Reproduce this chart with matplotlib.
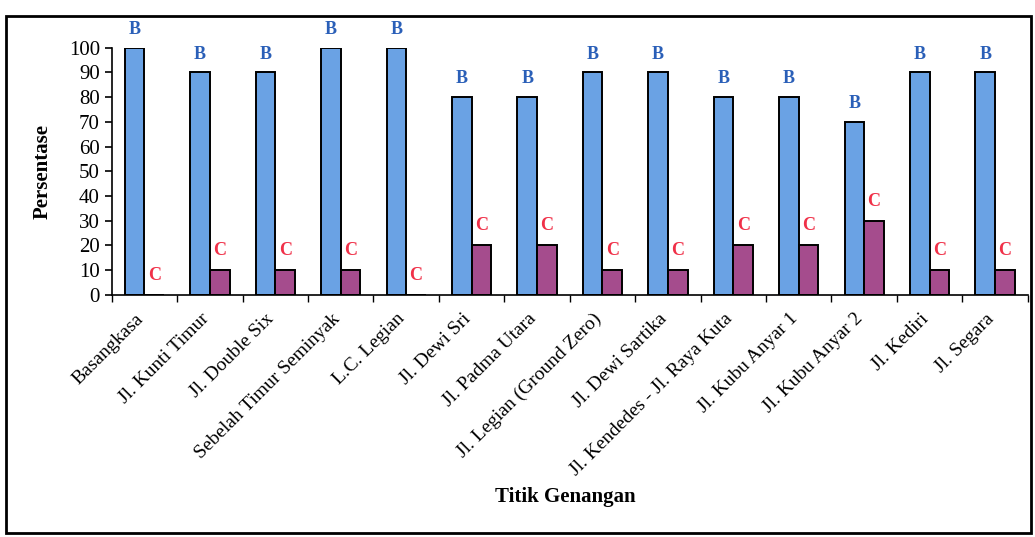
import numpy as np
import matplotlib
matplotlib.use('Agg')
import matplotlib.pyplot as plt
import matplotlib.transforms as mtransforms
from matplotlib.patches import Rectangle

lokasi = ['Basangkasa', 'Jl. Kunti Timur', 'Jl. Double Six', 'Sebelah Timur Seminyak',
          'L.C. Legian', 'Jl. Dewi Sri', 'Jl. Padma Utara', 'Jl. Legian (Ground Zero)',
          'Jl. Dewi Sartika', 'Jl. Kendedes - Jl. Raya Kuta', 'Jl. Kubu Anyar 1',
          'Jl. Kubu Anyar 2', 'Jl. Kediri', 'Jl. Segara']
nilai_b = [100, 90, 90, 100, 100, 80, 80, 90, 90, 80, 80, 70, 90, 90]
nilai_c = [0, 10, 10, 10, 0, 20, 20, 10, 10, 20, 20, 30, 10, 10]

plt.rcParams['font.family'] = ['Liberation Serif', 'DejaVu Serif']

fig = plt.figure(figsize=(10.35, 5.37), dpi=100)
ax = fig.add_axes([0.108, 0.451, 0.885, 0.46])

x = np.arange(len(lokasi))
w = 0.3
ax.bar(x - w / 2, nilai_b, w, color='#6aa2e4', edgecolor='black', linewidth=1.4)
ax.bar(x + w / 2, nilai_c, w, color='#a54c8d', edgecolor='black', linewidth=1.4)

for i in range(len(lokasi)):
    ax.text(x[i] - w / 2, nilai_b[i] + 4, 'B', color='#2a5fb8', fontsize=13,
            fontweight='bold', ha='center', va='bottom', clip_on=False)
    ax.text(x[i] + w / 2, nilai_c[i] + 4.5, 'C', color='#f03048', fontsize=13,
            fontweight='bold', ha='center', va='bottom', clip_on=False)

ax.set_xlim(-0.5, len(lokasi) - 0.5)
ax.set_ylim(0, 100)
ax.set_yticks(range(0, 101, 10))
ax.tick_params(axis='y', labelsize=15, direction='out', length=5, width=1.2)

# category ticks sit between the groups, labels at the centres
ax.set_xticks(np.arange(len(lokasi) + 1) - 0.5)
ax.set_xticklabels([])
ax.tick_params(axis='x', direction='out', length=5, width=1)
ax.set_xticks(x, minor=True)
ax.set_xticklabels(lokasi, minor=True, rotation=45, ha='right',
                   rotation_mode='anchor', fontsize=14)
ax.tick_params(axis='x', which='minor', length=0, pad=11)
geser = mtransforms.ScaledTranslation(-7 / 72, 0, fig.dpi_scale_trans)
for lbl in ax.get_xticklabels(minor=True):
    lbl.set_transform(lbl.get_transform() + geser)

for s in ['top', 'right']:
    ax.spines[s].set_visible(False)
ax.spines['left'].set_linewidth(1.2)
ax.spines['bottom'].set_linewidth(1.2)

ax.set_ylabel('Persentase', fontsize=15, fontweight='bold', labelpad=12)
fig.text(0.546, 0.075, 'Titik Genangan', fontsize=15, fontweight='bold',
         ha='center', va='center')

fig.patches.append(Rectangle((0.006, 0.008), 0.99, 0.962, transform=fig.transFigure,
                             fill=False, edgecolor='black', linewidth=2))

fig.savefig('out.png', dpi=100)
